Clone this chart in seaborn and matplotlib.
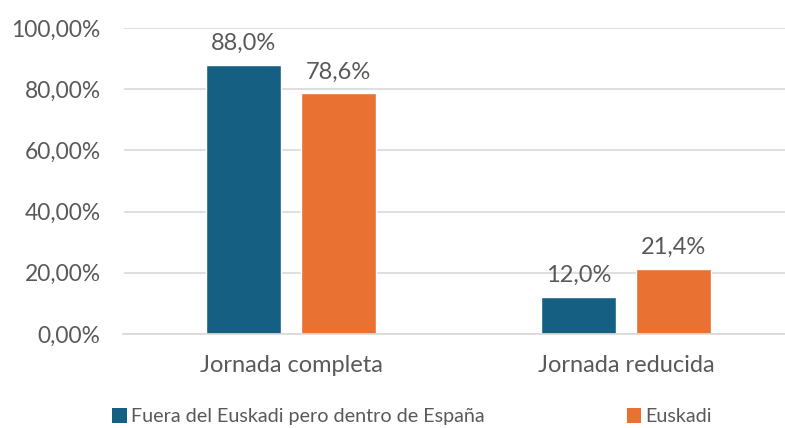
import matplotlib
matplotlib.use("Agg")
import matplotlib.pyplot as plt
import seaborn as sns
import pandas as pd
from matplotlib.patches import Patch

categories = ["Jornada completa", "Jornada reducida"]
series_names = ["Fuera del Euskadi pero dentro de España", "Euskadi"]
fuera_values = [88.0, 12.0]
euskadi_values = [78.6, 21.4]
y_ticks = [0, 20, 40, 60, 80, 100]

colors = ["#156082", "#E97132"]
text_color = "#595959"

sns.set_theme(style="white")
plt.rcParams["font.family"] = ["Lato", "DejaVu Sans"]

df = pd.DataFrame({
    "categoria": categories * 2,
    "serie": [series_names[0]] * 2 + [series_names[1]] * 2,
    "valor": fuera_values + euskadi_values,
})

fig = plt.figure(figsize=(7.85, 4.28), dpi=100)
ax = fig.add_axes([123.5 / 785, 94 / 428, 670 / 785, 306 / 428])

sns.barplot(data=df, x="categoria", y="valor", hue="serie", palette=colors,
            width=0.567, gap=0.21, ax=ax, legend=False, saturation=1)

ax.set_ylim(0, 100)
ax.set_xlim(-0.5, 1.5)
ax.set_yticks(y_ticks)
ax.set_yticklabels([f"{t:.2f}".replace(".", ",") + "%" for t in y_ticks])
ax.yaxis.grid(True, color="#D9D9D9", linewidth=1.2)
ax.set_axisbelow(True)
for s in ["top", "right", "left"]:
    ax.spines[s].set_visible(False)
ax.spines["bottom"].set_color("#D9D9D9")
ax.spines["bottom"].set_linewidth(1.2)
ax.tick_params(axis="y", length=0, pad=16.5, labelsize=16.4, labelcolor=text_color)
ax.tick_params(axis="x", length=0, pad=15, labelsize=17, labelcolor=text_color)
ax.set_xlabel("")
ax.set_ylabel("")

for cont in ax.containers:
    labels = [f"{b.get_height():.1f}".replace(".", ",") + "%" for b in cont]
    ax.bar_label(cont, labels=labels, padding=8, fontsize=17, color=text_color)

handles = [Patch(facecolor=c, edgecolor="none") for c in colors]
fig.legend(handles, series_names, loc="lower center", bbox_to_anchor=(0.525, -0.035),
           ncol=2, frameon=False, fontsize=14.2, labelcolor=text_color,
           handlelength=0.75, handleheight=0.75, handletextpad=0.2, columnspacing=7.2)

fig.savefig("out.png", dpi=100)
